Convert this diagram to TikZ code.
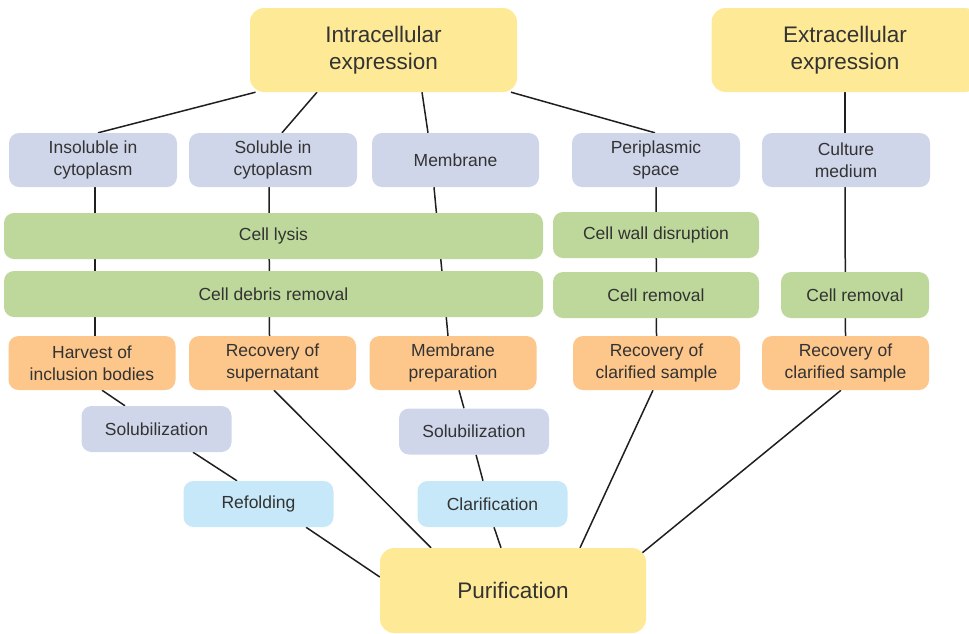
\documentclass[tikz,border=0pt]{standalone}
\usepackage{fontspec}
\setmainfont{Liberation Sans}
\usetikzlibrary{positioning, backgrounds}

\definecolor{expyellow}{HTML}{FEEA96}
\definecolor{locblue}{HTML}{D0D6EA}
\definecolor{stepgreen}{HTML}{BDD89A}
\definecolor{recorange}{HTML}{FDC68A}
\definecolor{finalcyan}{HTML}{C6E8F8}
\definecolor{textgray}{HTML}{333333}

\begin{document}
\begin{tikzpicture}[
    x=1pt, y=-1pt,
    box/.style={
      rectangle, rounded corners=10pt, inner sep=0pt, align=center,
      text=textgray, font=\fontsize{17.5}{22}\selectfont,
      minimum height=54pt,
    },
    big/.style     ={box, fill=expyellow, rounded corners=14pt,
                     minimum width=267pt, minimum height=84pt,
                     font=\fontsize{22.5}{27}\selectfont},
    location/.style={box, fill=locblue,   minimum width=#1},
    process/.style ={box, fill=stepgreen, minimum height=46pt, minimum width=#1},
    recover/.style ={box, fill=recorange, minimum width=167pt},
    prep/.style    ={box, fill=locblue,   minimum height=46pt, minimum width=150pt},
    polish/.style  ={box, fill=finalcyan, minimum height=46pt, minimum width=150pt},
    link/.style={line width=1.5pt, black!88},
]
\clip (0,0) rectangle (969,633);

% expression
\node[big] (intra) at (383.5,50) {Intracellular\\expression};
\node[big] (extra) at (845,50)   {Extracellular\\expression};

% location of the protein
\node[location=168pt] (insol) at (93,160)    {Insoluble in\\cytoplasm};
\node[location=168pt] (sol)   at (273,160)   {Soluble in\\cytoplasm};
\node[location=167pt] (memb)  at (455.5,160) {Membrane};
\node[location=168pt] (peri)  at (656,160)   {Periplasmic\\space};
\node[location=168pt] (cult)  at (846,160)   {Culture\\medium};

% cell treatment
\node[process=539pt] (lysis)  at (273.5,236) {Cell lysis};
\node[process=206pt] (wall)   at (656,235)   {Cell wall disruption};
\node[process=539pt] (debris) at (273.5,294) {Cell debris removal};
\node[process=206pt] (crem)   at (656,295)   {Cell removal};
\node[process=148pt] (cremx)  at (855,295)   {Cell removal};

% recovery
\node[recover] (harv)   at (92,363)    {Harvest of\\inclusion bodies};
\node[recover] (super)  at (272.5,363) {Recovery of\\supernatant};
\node[recover] (mprep)  at (453,363)   {Membrane\\preparation};
\node[recover] (rclar)  at (656.5,363) {Recovery of\\clarified sample};
\node[recover] (rclarx) at (845.5,363) {Recovery of\\clarified sample};

\node[prep]   (solub)  at (156.5,429) {Solubilization};
\node[prep]   (solubm) at (474,431.5) {Solubilization};
\node[polish] (refold) at (258.5,504) {Refolding};
\node[polish] (clarif) at (492.5,504) {Clarification};

\node[big, minimum width=266pt, minimum height=85pt] (purif) at (513,590.5) {Purification};

\begin{scope}[on background layer]
  \draw[link] ([xshift=-128pt]intra.south) -- ([xshift=5pt]insol.north);
  \draw[link] ([xshift=-66.5pt]intra.south) -- ([xshift=9pt]sol.north);
  \draw[link] ([xshift=38.5pt]intra.south) -- ([xshift=-27.5pt]memb.north);
  \draw[link] ([xshift=127.5pt]intra.south) -- ([xshift=-1pt]peri.north);
  \draw[link] (extra.south) -- ([xshift=-1pt]cult.north);

  \draw[link] ([xshift=2pt]insol.south) -- ([xshift=3pt]harv.north);
  \draw[link] ([xshift=-4pt]sol.south) -- ([xshift=-3pt]super.north);
  \draw[link] ([xshift=-21.5pt]memb.south) -- ([xshift=-5pt]mprep.north);
  \draw[link] (peri.south) -- (rclar.north);
  \draw[link] ([xshift=-1pt]cult.south) -- (rclarx.north);

  \draw[link] ([xshift=10pt]harv.south) -- ([xshift=-31.5pt]solub.north);
  \draw[link] ([xshift=36.5pt]solub.south) -- ([xshift=-21.5pt]refold.north);
  \draw[link] ([xshift=47.5pt]refold.south) -- ([yshift=13.5pt]purif.west);
  \draw[link] ([xshift=1.5pt]super.south) -- ([xshift=-82pt]purif.north);
  \draw[link] ([xshift=6pt]mprep.south) -- ([xshift=-10pt]solubm.north);
  \draw[link] ([xshift=2pt]solubm.south) -- ([xshift=-9.5pt]clarif.north);
  \draw[link] ([xshift=1.5pt]clarif.south) -- ([xshift=-12pt]purif.north);
  \draw[link] ([xshift=-3.5pt]rclar.south) -- ([xshift=67pt]purif.north);
  \draw[link] ([xshift=-4.5pt]rclarx.south) -- ([xshift=-10pt,yshift=-10pt]purif.north east);
\end{scope}
\end{tikzpicture}
\end{document}
